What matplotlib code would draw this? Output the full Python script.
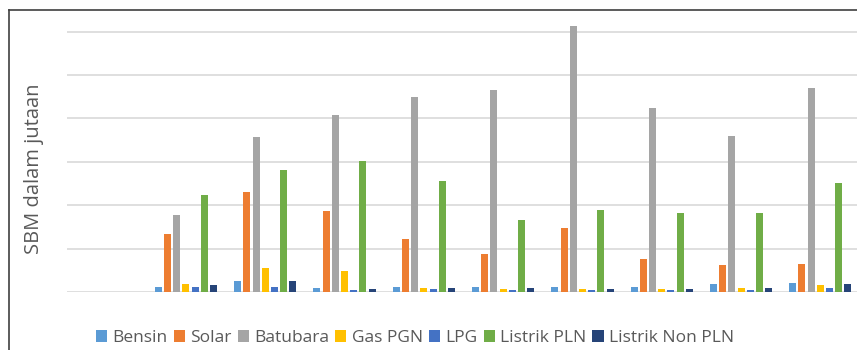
# SBM consumption per energy type, grouped bar chart
import matplotlib.pyplot as plt
import numpy as np
from matplotlib.lines import Line2D

# first group is empty in the source chart
groups = ['0', '1', '2', '3', '4', '5', '6', '7', '8', '9']

bensin = [0, 1.2, 2.6, 0.85, 1.1, 1.2, 1.1, 1.2, 1.9, 2.1]
solar = [0, 13.4, 23.0, 18.6, 12.2, 8.8, 14.7, 7.7, 6.2, 6.5]
batubara = [0, 17.7, 35.8, 40.8, 45.0, 46.5, 61.3, 42.4, 35.9, 47.1]
gas_pgn = [0, 1.8, 5.6, 4.9, 1.0, 0.6, 0.6, 0.6, 0.85, 1.5]
lpg = [0, 1.1, 1.2, 0.55, 0.6, 0.4, 0.4, 0.4, 0.4, 0.85]
listrik_pln = [0, 22.4, 28.2, 30.3, 25.6, 16.6, 18.9, 18.3, 18.3, 25.2]
listrik_non_pln = [0, 1.5, 2.5, 0.75, 1.0, 0.9, 0.75, 0.6, 0.85, 1.8]

series = [bensin, solar, batubara, gas_pgn, lpg, listrik_pln, listrik_non_pln]
names = ['Bensin', 'Solar', 'Batubara', 'Gas PGN', 'LPG', 'Listrik PLN', 'Listrik Non PLN']
colors = ['#5B9BD5', '#ED7D31', '#A5A5A5', '#FFC000', '#4472C4', '#70AD47', '#264478']

plt.rcParams['font.family'] = ['Open Sans', 'DejaVu Sans']

fig = plt.figure(figsize=(8.57, 3.5), dpi=100)
ax = fig.add_axes([67 / 857, 58 / 350, 793 / 857, 282 / 350])

x = np.arange(len(groups))
step = 0.116
width = 0.088
for i, (vals, name, c) in enumerate(zip(series, names, colors)):
    ax.bar(x + (i - 3) * step, vals, width, color=c, label=name, linewidth=0, zorder=3)

ax.set_xlim(-0.5, len(groups) - 0.5)
ax.set_ylim(0, 65)
ax.set_yticks(range(0, 61, 10))
ax.grid(axis='y', color='#D9D9D9', linewidth=1.2, zorder=0)
ax.set_xticks([])
ax.tick_params(axis='y', length=0, labelleft=False)
for s in ax.spines.values():
    s.set_visible(False)

fig.text(34 / 857, 1 - 169 / 350, 'SBM dalam jutaan', rotation=90, ha='center', va='center',
         fontsize=14.5, color='#595959')

fig.legend(loc='center', bbox_to_anchor=(415 / 857, 1 - 338 / 350), ncol=7, frameon=False,
           fontsize=12.5, handlelength=0.65, handleheight=0.65, handletextpad=0.3,
           columnspacing=0.35, labelcolor='#595959', borderpad=0, borderaxespad=0)

# outer frame (left and top edge, rest is cropped)
fig.add_artist(Line2D([9 / 857, 9 / 857], [0, 1 - 10 / 350], color='#404040', lw=1.2))
fig.add_artist(Line2D([9 / 857, 1], [1 - 10 / 350, 1 - 10 / 350], color='#404040', lw=1.2))

fig.savefig('out.png', dpi=100)
